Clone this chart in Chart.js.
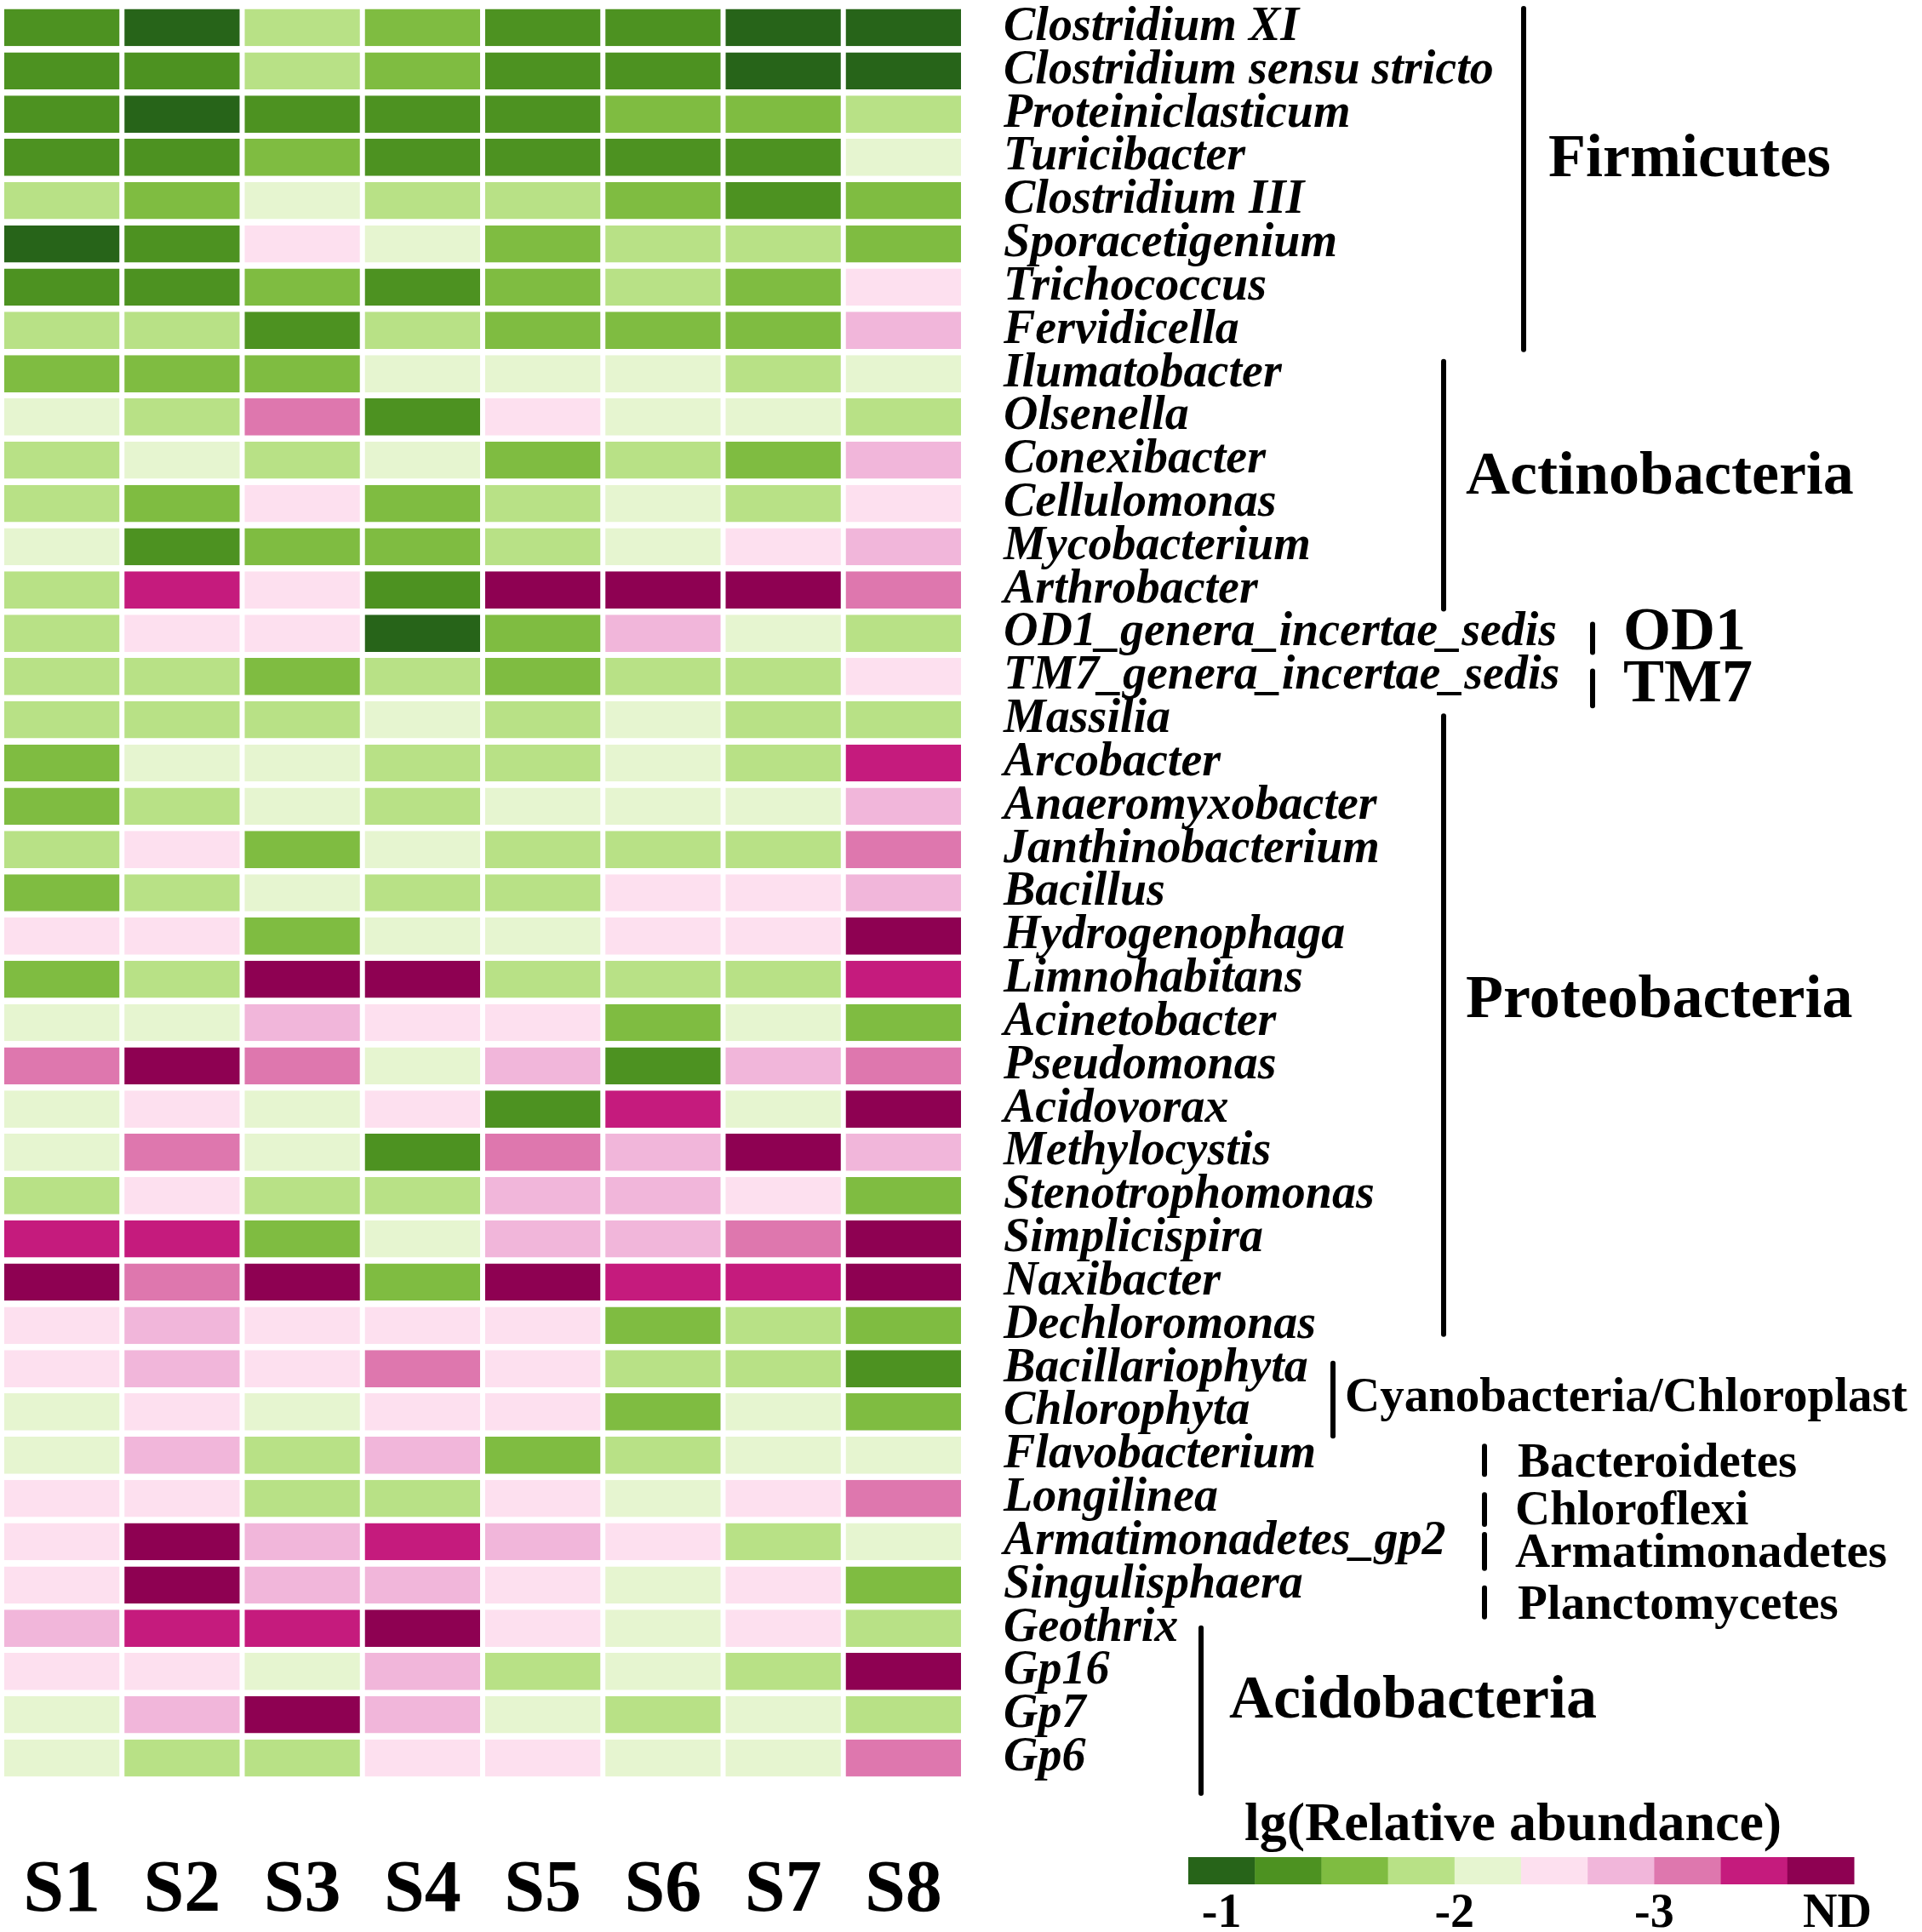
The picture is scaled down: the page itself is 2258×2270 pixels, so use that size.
<!DOCTYPE html>
<html><head><meta charset="utf-8">
<script src="https://cdn.jsdelivr.net/npm/chart.js@4.4.1/dist/chart.umd.min.js"></script>
<style>html,body{margin:0;padding:0;background:#fff;} #wrap{width:2258px;height:2270px;position:relative;}</style>
</head><body><div id="wrap"><canvas id="c"></canvas></div>
<script>
const genera = ['Clostridium XI','Clostridium sensu stricto','Proteiniclasticum','Turicibacter','Clostridium III','Sporacetigenium','Trichococcus','Fervidicella','Ilumatobacter','Olsenella','Conexibacter','Cellulomonas','Mycobacterium','Arthrobacter','OD1_genera_incertae_sedis','TM7_genera_incertae_sedis','Massilia','Arcobacter','Anaeromyxobacter','Janthinobacterium','Bacillus','Hydrogenophaga','Limnohabitans','Acinetobacter','Pseudomonas','Acidovorax','Methylocystis','Stenotrophomonas','Simplicispira','Naxibacter','Dechloromonas','Bacillariophyta','Chlorophyta','Flavobacterium','Longilinea','Armatimonadetes_gp2','Singulisphaera','Geothrix','Gp16','Gp7','Gp6'];
const samples = ['S1','S2','S3','S4','S5','S6','S7','S8'];
// lg(relative abundance) per sample, one value per genus; null = ND
const S1 = [-1.4,-1.4,-1.4,-1.4,-1.9,-1.1,-1.4,-1.9,-1.6,-2.2,-1.9,-1.9,-2.2,-1.9,-1.9,-1.9,-1.9,-1.6,-1.6,-1.9,-1.6,-2.5,-1.6,-2.2,-3.2,-2.2,-2.2,-1.9,-3.6,null,-2.5,-2.5,-2.2,-2.2,-2.5,-2.5,-2.5,-2.8,-2.5,-2.2,-2.2];
const S2 = [-1.1,-1.4,-1.1,-1.4,-1.6,-1.4,-1.4,-1.9,-1.6,-1.9,-2.2,-1.6,-1.4,-3.6,-2.5,-1.9,-1.9,-2.2,-1.9,-2.5,-1.9,-2.5,-1.9,-2.2,null,-2.5,-3.2,-2.5,-3.6,-3.2,-2.8,-2.8,-2.5,-2.8,-2.5,null,null,-3.6,-2.5,-2.8,-1.9];
const S3 = [-1.9,-1.9,-1.4,-1.6,-2.2,-2.5,-1.6,-1.4,-1.6,-3.2,-1.9,-2.5,-1.6,-2.5,-2.5,-1.6,-1.9,-2.2,-2.2,-1.6,-2.2,-1.6,null,-2.8,-3.2,-2.2,-2.2,-1.9,-1.6,null,-2.5,-2.5,-2.2,-1.9,-1.9,-2.8,-2.8,-3.6,-2.2,null,-1.9];
const S4 = [-1.6,-1.6,-1.4,-1.4,-1.9,-2.2,-1.4,-1.9,-2.2,-1.4,-2.2,-1.6,-1.6,-1.4,-1.1,-1.9,-2.2,-1.9,-1.9,-2.2,-1.9,-2.2,null,-2.5,-2.2,-2.5,-1.4,-1.9,-2.2,-1.6,-2.5,-3.2,-2.5,-2.8,-1.9,-3.6,-2.8,null,-2.8,-2.8,-2.5];
const S5 = [-1.4,-1.4,-1.4,-1.4,-1.9,-1.6,-1.6,-1.6,-2.2,-2.5,-1.6,-1.9,-1.9,null,-1.6,-1.6,-1.9,-1.9,-2.2,-1.9,-1.9,-2.2,-1.9,-2.5,-2.8,-1.4,-3.2,-2.8,-2.8,null,-2.5,-2.5,-2.5,-1.6,-2.5,-2.8,-2.5,-2.5,-1.9,-2.2,-2.5];
const S6 = [-1.4,-1.4,-1.6,-1.4,-1.6,-1.9,-1.9,-1.6,-2.2,-2.2,-1.9,-2.2,-2.2,null,-2.8,-1.9,-2.2,-2.2,-2.2,-1.9,-2.5,-2.5,-1.9,-1.6,-1.4,-3.6,-2.8,-2.8,-2.8,-3.6,-1.6,-1.9,-1.6,-1.9,-2.2,-2.5,-2.2,-2.2,-2.2,-1.9,-2.2];
const S7 = [-1.1,-1.1,-1.6,-1.4,-1.4,-1.9,-1.6,-1.6,-1.9,-2.2,-1.6,-1.9,-2.5,null,-2.2,-1.9,-1.9,-1.9,-2.2,-1.9,-2.5,-2.5,-1.9,-2.2,-2.8,-2.2,null,-2.5,-3.2,-3.6,-1.9,-1.9,-2.2,-2.2,-2.5,-1.9,-2.5,-2.5,-1.9,-2.2,-2.2];
const S8 = [-1.1,-1.1,-1.9,-2.2,-1.6,-1.6,-2.5,-2.8,-2.2,-1.9,-2.8,-2.5,-2.8,-3.2,-1.9,-2.5,-1.9,-3.6,-2.8,-3.2,-2.8,null,-3.6,-1.6,-3.2,null,-2.8,-1.6,null,null,-1.6,-1.4,-1.6,-2.2,-3.2,-2.2,-1.6,-1.9,null,-1.9,-3.2];
const seriesValues = [S1,S2,S3,S4,S5,S6,S7,S8];

const phyla = ['Firmicutes','Actinobacteria','OD1','TM7','Proteobacteria','Cyanobacteria/Chloroplast','Bacteroidetes','Chloroflexi','Armatimonadetes','Planctomycetes','Acidobacteria'];
const phylumFirstRow = [0,8,14,15,16,31,33,34,35,36,37];
const phylumLastRow  = [7,13,14,15,30,32,33,34,35,36,40];

const legendTitle = 'lg(Relative abundance)';
const legendTickLabels = ['-1','-2','-3','ND'];
const legendTickBins = [0.5,4,7,9.75];
const binEdges = [-1.25,-1.5,-1.75,-2,-2.33,-2.67,-3,-3.4];
const palette = ['#276419','#4d9221','#7fbc41','#b8e186','#e6f5d0','#fde0ef','#f1b6da','#de77ae','#c51b7d','#8e0152'];

function colorFor(v){
  if (v === null) return palette[palette.length-1];
  let k = 0;
  while (k < binEdges.length && v < binEdges[k]) k++;
  return palette[k];
}

const SERIF = '"Liberation Serif","Times New Roman",serif';

// annotation styles (pixel layout only)
const groupStyle = [
  {lineX:1790, textX:1819, textRow:3.06, size:72, inTop:0, inBot:0},
  {lineX:1696, textX:1722, textRow:10.4, size:72, inTop:8, inBot:0},
  {lineX:1871, textX:1907, textRow:14.0, size:72, inTop:12, inBot:0},
  {lineX:1871, textX:1907, textRow:15.2, size:72, inTop:16, inBot:-12},
  {lineX:1696, textX:1722, textRow:22.5, size:72, inTop:18, inBot:12},
  {lineX:1566, textX:1580, textRow:31.7, size:57, inTop:16, inBot:-6},
  {lineX:1744, textX:1783, textRow:33.2, size:57, inTop:12, inBot:0},
  {lineX:1744, textX:1780, textRow:34.3, size:57, inTop:18, inBot:-8},
  {lineX:1744, textX:1780, textRow:35.3, size:57, inTop:14, inBot:-9},
  {lineX:1744, textX:1783, textRow:36.5, size:57, inTop:26, inBot:-15},
  {lineX:1411, textX:1444, textRow:38.7, size:72, inTop:22, inBot:-19}
];

const annotPlugin = {
  id:'annot',
  afterDraw(chart){
    const ctx = chart.ctx, y = chart.scales.y;
    const band = y.getPixelForValue(1) - y.getPixelForValue(0);
    ctx.save();
    ctx.fillStyle = '#000';
    ctx.textBaseline = 'middle';
    ctx.textAlign = 'left';
    phyla.forEach((name,i)=>{
      const st = groupStyle[i];
      const top = y.getPixelForValue(phylumFirstRow[i]) - band/2 + st.inTop;
      const bot = y.getPixelForValue(phylumLastRow[i]) + band/2 - st.inBot;
      ctx.beginPath();
      ctx.lineWidth = 6; ctx.lineCap = 'round'; ctx.strokeStyle = '#000';
      ctx.moveTo(st.lineX, top + 3); ctx.lineTo(st.lineX, bot - 3);
      ctx.stroke();
      ctx.font = 'bold ' + st.size + 'px ' + SERIF;
      ctx.fillText(name, st.textX, y.getPixelForValue(st.textRow));
    });
    // color legend
    const lx0 = 1396, lx1 = 2178, ly0 = 2182, ly1 = 2214;
    const bw = (lx1 - lx0) / palette.length;
    palette.forEach((c,k)=>{ ctx.fillStyle = c; ctx.fillRect(lx0 + k*bw, ly0, bw + 0.5, ly1 - ly0); });
    ctx.fillStyle = '#000';
    ctx.font = 'bold 64px ' + SERIF;
    ctx.textAlign = 'left';
    ctx.fillText(legendTitle, 1462, 2145);
    ctx.font = 'bold 56px ' + SERIF;
    ctx.textAlign = 'center';
    legendTickLabels.forEach((t,k)=>{ ctx.fillText(t, lx0 + legendTickBins[k]*bw, 2250); });
    ctx.restore();
  }
};

new Chart(document.getElementById('c'), {
  type:'bar',
  data:{
    labels: genera,
    datasets: seriesValues.map((vals,i)=>({
      label: samples[i],
      data: vals.map(()=>1),
      backgroundColor: vals.map(colorFor),
      borderColor:'#ffffff',
      borderWidth:{left:3,right:3,top:0,bottom:0},
      borderSkipped:false,
      barPercentage:0.86,
      categoryPercentage:1
    }))
  },
  options:{
    indexAxis:'y', responsive:true, maintainAspectRatio:false, animation:false, devicePixelRatio:1,
    layout:{padding:{left:2,top:7,right:0,bottom:0}},
    plugins:{legend:{display:false}, tooltip:{enabled:false}},
    scales:{
      x:{type:'linear', stacked:true, min:0, max:8, position:'bottom',
         grid:{display:false, drawTicks:false}, border:{display:false},
         afterBuildTicks:(s)=>{ s.ticks = samples.map((_,i)=>({value:i+0.5})); },
         afterFit:(s)=>{ s.height = 179; s.paddingLeft = 0; s.paddingRight = 0; s.paddingTop = 0; s.paddingBottom = 0; },
         ticks:{autoSkip:false, maxRotation:0, padding:80, color:'#000',
                font:{family:SERIF, size:86, weight:'bold'},
                callback:(v,i)=>samples[i]}},
      y:{type:'category', stacked:true, position:'right',
         grid:{display:false, drawTicks:false}, border:{display:false},
         afterFit:(s)=>{ s.width = 1126; s.paddingLeft = 0; s.paddingRight = 0; s.paddingTop = 0; s.paddingBottom = 0; },
         ticks:{autoSkip:false, padding:47, color:'#000',
                font:{family:SERIF, size:56, weight:'bold', style:'italic'}}}
    }
  },
  plugins:[annotPlugin]
});
</script></body></html>
